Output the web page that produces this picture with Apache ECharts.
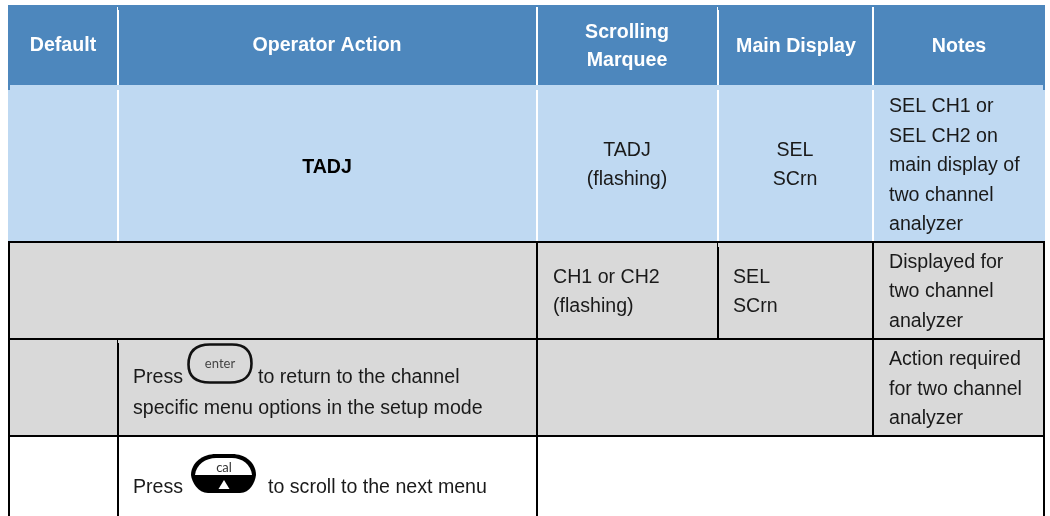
<!DOCTYPE html>
<html><head><meta charset="utf-8">
<style>html,body{margin:0;padding:0;background:#fff}#c{width:1050px;height:516px}</style>
<script src="https://cdn.jsdelivr.net/npm/echarts@6/dist/echarts.min.js"></script>
</head><body><div id="c"></div>
<script>
// Table structure
const colEdges = [8, 118, 537, 718, 873, 1045];
const rowEdges = [5, 85, 242, 339, 436, 516];
const BLUE = '#4d87bd', LIGHT = '#bfd9f2', GREY = '#d9d9d9';
// filled areas: [col from, col to, row from, fill]
const fills = [[0,5,0,BLUE],[0,5,1,LIGHT],[0,5,2,GREY],[0,5,3,GREY]];
// table rules: [x1,y1,x2,y2,colour,width] in table units
const rules = [
  [9,85,9,90,BLUE,2],[1044,85,1044,90,BLUE,2],
  [117.5,7,117.5,10,'#fff',1],[118,10,118,85,'#fff',2],[537,7,537,85,'#fff',2],[717.5,7,717.5,10,'#fff',1],[718,10,718,85,'#fff',2],[873,7,873,85,'#fff',2],
  [118,90,118,241,'#fff',2],[537,90,537,241,'#fff',2],[718,90,718,241,'#fff',2],[873,90,873,241,'#fff',2],
  [8,242,1045,242,'#000',2],[8,339,1045,339,'#000',2],[8,436,1045,436,'#000',2],
  [9,241,9,516,'#000',2],[1044,241,1044,516,'#000',2],
  [537,241,537,516,'#000',2],[717.5,243,717.5,247,'#000',1],[718,247,718,339,'#000',2],[873,241,873,436,'#000',2],
  [117.5,340,117.5,343,'#000',1],[118,343,118,516,'#000',2]
];
// text: [string, x, centre y, align]
const headerLabels = [
  ['Default',63,46,'center'],['Operator Action',327,46,'center'],
  ['Scrolling',627,33,'center'],['Marquee',627,61,'center'],
  ['Main Display',796,47,'center'],['Notes',959,47,'center']
];
const bodyLabels = [
  ['TADJ',627,151,'center'],['(flashing)',627,180,'center'],
  ['SEL',795,151,'center'],['SCrn',795,180,'center'],
  ['SEL CH1 or',889,107,'left'],['SEL CH2 on',889,137,'left'],['main display of',889,166,'left'],['two channel',889,196,'left'],['analyzer',889,225,'left'],
  ['CH1 or CH2',553,278,'left'],['(flashing)',553,307,'left'],
  ['SEL',733,278,'left'],['SCrn',733,307,'left'],
  ['Displayed for',889,263,'left'],['two channel',889,292,'left'],['analyzer',889,322,'left'],
  ['Press',133,378,'left'],['to return to the channel',258,378,'left'],['specific menu options in the setup mode',133,409,'left'],
  ['Action required',889,360,'left'],['for two channel',889,390,'left'],['analyzer',889,419,'left'],
  ['Press',133,488,'left'],['to scroll to the next menu',268,488,'left']
];
const boldLabels = [['TADJ',327,168,'center']];
// key icons: [label, centre x, centre y, solid]
const keys = [['enter',220,363.5,false],['cal',224,473.5,true]];

const xy = (api,x,y)=>api.coord([x,y]);
const series = [];
series.push({type:'custom',coordinateSystem:'cartesian2d',silent:true,z:1,clip:false,
  data:fills.map(f=>[colEdges[f[0]],rowEdges[f[2]]]),
  renderItem:(p,api)=>{
    const f=fills[p.dataIndex];
    const a=xy(api,colEdges[f[0]],rowEdges[f[2]]),b=xy(api,colEdges[f[1]],rowEdges[f[2]+1]);
    return {type:'rect',shape:{x:a[0],y:a[1],width:b[0]-a[0],height:b[1]-a[1]},style:{fill:f[3]}};
  }});
series.push({type:'custom',coordinateSystem:'cartesian2d',silent:true,z:2,clip:false,
  data:rules.map(r=>[r[0],r[1]]),
  renderItem:(p,api)=>{
    const r=rules[p.dataIndex];
    const a=xy(api,r[0],r[1]),b=xy(api,r[2],r[3]);
    return {type:'line',shape:{x1:a[0],y1:a[1],x2:b[0],y2:b[1]},style:{stroke:r[4],lineWidth:r[5]}};
  }});
function textSeries(list,color,weight){
  series.push({type:'custom',coordinateSystem:'cartesian2d',silent:true,z:3,clip:false,
    data:list.map(t=>[t[1],t[2]]),
    renderItem:(p,api)=>{
      const t=list[p.dataIndex],a=xy(api,t[1],t[2]);
      return {type:'text',x:a[0],y:a[1],style:{text:t[0],fill:color,align:t[3],verticalAlign:'middle',
        font:weight+' 19.6px "Liberation Sans", Arial, sans-serif'}};
    }});
}
textSeries(headerLabels,'#fff','bold');
textSeries(bodyLabels,'#1a1a1a','normal');
textSeries(boldLabels,'#000','bold');
series.push({type:'custom',coordinateSystem:'cartesian2d',silent:true,z:4,clip:false,
  data:keys.map(k=>[k[1],k[2]]),
  renderItem:(p,api)=>{
    const k=keys[p.dataIndex],c=xy(api,k[1],k[2]),X=c[0],Y=c[1];
    const P=(dx,dy)=>(X+dx)+' '+(Y+dy);
    if(!k[3]){
      const d='M'+P(-31.5,1)+' C'+P(-31.5,-13)+' '+P(-24,-19)+' '+P(-10,-19)+' L'+P(12,-19)+' C'+P(25,-19)+' '+P(31.5,-13)+' '+P(31.5,0)
        +' C'+P(31.5,12)+' '+P(24,19)+' '+P(10,19)+' L'+P(-10,19)+' C'+P(-24,19)+' '+P(-31.5,13)+' '+P(-31.5,1)+' Z';
      return {type:'group',children:[
        {type:'path',shape:{pathData:d},style:{fill:GREY,stroke:'#111',lineWidth:2.6}},
        {type:'text',x:X,y:Y,style:{text:k[0],fill:'#444',align:'center',verticalAlign:'middle',font:'13px Lato, sans-serif'}}
      ]};
    }
    const outer='M'+P(-33,1.5)+' C'+P(-33,-11)+' '+P(-21,-19.5)+' '+P(-8,-19.5)+' L'+P(8,-19.5)+' C'+P(21,-19.5)+' '+P(32,-11)+' '+P(32,1.5)
      +' C'+P(31,9)+' '+P(26,19.5)+' '+P(16,19.5)+' L'+P(-16,19.5)+' C'+P(-26,19.5)+' '+P(-32,9)+' '+P(-33,1.5)+' Z';
    const inner='M'+P(-29,1.5)+' C'+P(-28,-9)+' '+P(-18,-15.5)+' '+P(-8,-15.5)+' L'+P(8,-15.5)+' C'+P(18,-15.5)+' '+P(27,-9)+' '+P(28,1.5)+' Z';
    return {type:'group',children:[
      {type:'path',shape:{pathData:outer},style:{fill:'#000'}},
      {type:'path',shape:{pathData:inner},style:{fill:'#fff'}},
      {type:'text',x:X,y:Y-6,style:{text:k[0],fill:'#333',align:'center',verticalAlign:'middle',font:'13px Lato, sans-serif'}},
      {type:'polygon',shape:{points:[[X-5.5,Y+15.5],[X+5.5,Y+15.5],[X,Y+6.5]]},style:{fill:'#fff'}}
    ]};
  }});

const chart=echarts.init(document.getElementById('c'),null,{renderer:'canvas'});
chart.setOption({animation:false,backgroundColor:'#fff',
  grid:{left:0,right:0,top:0,bottom:0},
  xAxis:{type:'value',min:0,max:1050,show:false},
  yAxis:{type:'value',min:0,max:516,inverse:true,show:false},
  series});
</script></body></html>
